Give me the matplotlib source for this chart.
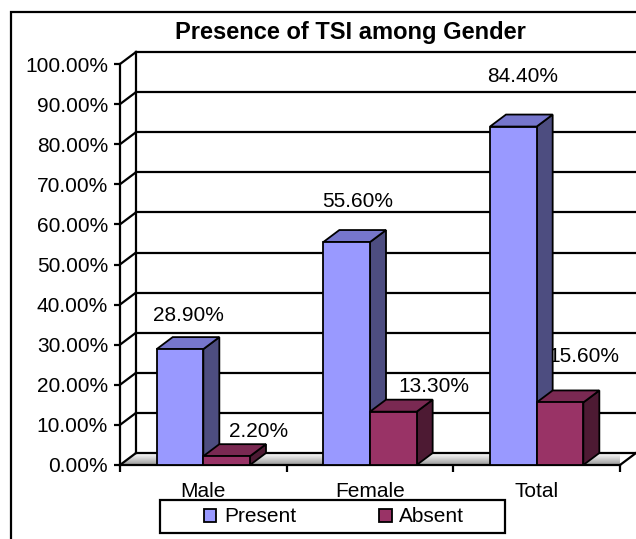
"""Excel-style 3D column chart: presence of TSI among gender."""
import matplotlib
matplotlib.use("Agg")
import matplotlib.pyplot as plt
import numpy as np
from matplotlib.patches import Polygon, Rectangle

plt.rcParams["font.family"] = ["Liberation Sans", "DejaVu Sans"]

categories = ["Male", "Female", "Total"]
series = ["Present", "Absent"]
present = [28.9, 55.6, 84.4]
absent = [2.2, 13.3, 15.6]
yticks = [0, 10, 20, 30, 40, 50, 60, 70, 80, 90, 100]
title = "Presence of TSI among Gender"

# front, top, side colours per series
SHADES = {
    "Present": ("#9999ff", "#7676cc", "#4d4d80"),
    "Absent": ("#993366", "#7a2952", "#4d1a33"),
}
# where Excel put the value labels: pixels (right, up) from the bar's front-top centre
LABEL_OFF = {
    "Present": [(8, 34), (11, 41), (9, 50)],
    "Absent": [(32, 25), (41, 25), (24, 46)],
}

W, H = 636, 539
fig = plt.figure(figsize=(W / 100, H / 100), dpi=100)
ax = fig.add_axes([120 / W, (H - 465) / H, 500 / W, 401 / H])
ax.set_xlim(0, len(categories))
ax.set_ylim(0, 100)
ax.set_facecolor("none")
for s in ax.spines.values():
    s.set_visible(False)

# depth of the 3D box, in data units
DX = 16 / (500 / len(categories))
DY = 12 / (401 / 100)
NC = len(categories)
LW = 1.6

# outer chart frame (runs off the right/bottom edges like the original)
fig.patches.append(Rectangle((11 / W, -0.1), 1.2, 1.1 - 12 / H, transform=fig.transFigure,
                             fill=False, edgecolor="black", linewidth=1.6))

# floor with gradient
floor = Polygon([(0, 0), (NC, 0), (NC + DX, DY), (DX, DY)], closed=True,
                facecolor="none", edgecolor="none", clip_on=False)
ax.add_patch(floor)
grad = np.linspace(0.6, 1.0, 64).reshape(-1, 1)
img = ax.imshow(grad, cmap="gray", vmin=0, vmax=1, extent=(0, NC + DX, DY, 0),
                aspect="auto", zorder=0.5, interpolation="bilinear")
img.set_clip_path(floor)
ax.set_xlim(0, NC)
ax.set_ylim(0, 100)

# back wall: gridlines and left edge, plus the slanted links to the front axis
for v in yticks:
    ax.plot([DX, NC + DX], [v + DY, v + DY], color="black", lw=LW, clip_on=False, zorder=1)
    ax.plot([0, DX], [v, v + DY], color="black", lw=LW, clip_on=False, zorder=1)
ax.plot([DX, DX], [DY, 100 + DY], color="black", lw=LW, clip_on=False, zorder=1)
ax.plot([0, 0], [0, 100], color="black", lw=LW, clip_on=False, zorder=1)
ax.plot([0, NC], [0, 0], color="black", lw=LW, clip_on=False, zorder=1)
ax.plot([NC, NC + DX], [0, DY], color="black", lw=LW, clip_on=False, zorder=1)

# value labels sit behind the bars
bw = 0.28
for si, (name, vals) in enumerate(zip(series, [present, absent])):
    for ci, v in enumerate(vals):
        x0 = ci + 0.5 - bw + si * bw
        dx, dy = LABEL_OFF[name][ci]
        ax.annotate(f"{v:.2f}%", (x0 + bw / 2, v), xytext=(dx * 0.72, dy * 0.72),
                    textcoords="offset points", ha="center", va="center",
                    fontsize=15, zorder=2, annotation_clip=False)

# 3D bars
for ci in range(NC):
    for si, (name, vals) in enumerate(zip(series, [present, absent])):
        v = vals[ci]
        x0 = ci + 0.5 - bw + si * bw
        x1 = x0 + bw
        front, top, side = SHADES[name]
        z = 3 + ci * 2 + si
        kw = dict(closed=True, edgecolor="black", linewidth=1.3, clip_on=False,
                  joinstyle="miter", zorder=z)
        ax.add_patch(Polygon([(x1, 0), (x1 + DX, DY), (x1 + DX, v + DY), (x1, v)],
                             facecolor=side, **kw))
        ax.add_patch(Polygon([(x0, v), (x1, v), (x1 + DX, v + DY), (x0 + DX, v + DY)],
                             facecolor=top, **kw))
        ax.add_patch(Polygon([(x0, 0), (x1, 0), (x1, v), (x0, v)],
                             facecolor=front, **kw))

# axes ticks and labels
ax.set_yticks(yticks)
ax.set_yticklabels([f"{v:.2f}%" for v in yticks], fontsize=15)
ax.tick_params(axis="y", direction="out", length=4.3, width=LW, pad=4.3)
ax.set_xticks([i + 0.5 for i in range(NC)])
ax.set_xticklabels(categories, fontsize=15)
ax.set_xticks(range(NC + 1), minor=True)
ax.tick_params(axis="x", which="major", length=0, pad=12)
ax.tick_params(axis="x", which="minor", direction="out", length=5, width=LW)

fig.text(350 / W, 1 - 33 / H, title, ha="center", va="center", fontsize=17,
         fontweight="bold")

# legend
fig.patches.append(Rectangle((160 / W, 1 - 533 / H), 345 / W, 33 / H, transform=fig.transFigure,
                             fill=False, edgecolor="black", linewidth=1.6))
handles = [Rectangle((0, 0), 1, 1, facecolor=SHADES[n][0], edgecolor="black", linewidth=1.3)
           for n in series]
fig.legend(handles, series, loc="center", bbox_to_anchor=(334 / W, 1 - 517 / H),
           ncol=2, frameon=False, fontsize=15, handlelength=0.6, handleheight=0.6,
           handletextpad=0.35, columnspacing=4.0, borderpad=0.2)

fig.savefig("out.png", dpi=100)
